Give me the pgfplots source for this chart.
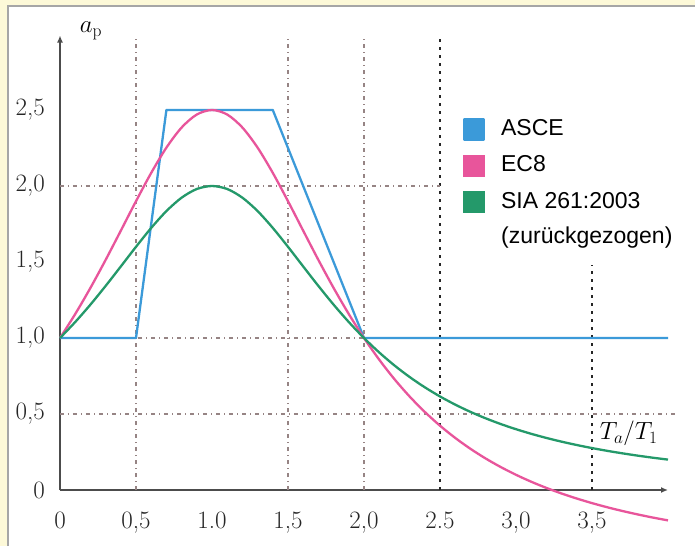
\documentclass[border=0pt]{standalone}
\usepackage{fontspec}
\setsansfont{Liberation Sans}
\usepackage{pgfplots}
\pgfplotsset{compat=1.18}
\usetikzlibrary{arrows.meta}
\definecolor{cream}{RGB}{253,249,216}
\definecolor{asce}{RGB}{59,154,217}
\definecolor{ecacht}{RGB}{232,85,155}
\definecolor{sia}{RGB}{36,153,106}
\definecolor{gridg}{RGB}{150,132,132}
\begin{document}
\begin{tikzpicture}
\fill[cream] (-60pt,-56pt) rectangle (635pt,490pt);
\fill[white] (-52pt,-56pt) rectangle (635pt,484pt);
\draw[black!35, line width=1.5pt] (-52pt,-56pt) -- (-52pt,484pt) -- (635pt,484pt);
\begin{axis}[
  at={(0pt,0pt)}, anchor=south west,
  x=152pt, y=152pt,
  xmin=0, xmax=4.0, ymin=0, ymax=2.99,
  axis lines=left,
  axis line style={-{Latex[length=7pt,width=6pt]}, line width=1.6pt, black!70},
  clip=false,
  xtick={0,0.5,1,1.5,2,2.5,3,3.5},
  xticklabels={0,{0,5},1.0,{1,5},{2,0},2.5,{3,0},{3,5}},
  ytick={0,0.5,1,1.5,2,2.5},
  yticklabels={0,{0,5},{1,0},{1,5},{2,0},{2,5}},
  major tick length=0pt,
  tick label style={font=\fontsize{25}{29}\selectfont, text=black!85},
  xticklabel style={anchor=base, yshift=-38pt, inner sep=0pt},
  yticklabel style={anchor=east, xshift=-15pt, inner sep=0pt},
  legend cell align=left,
  legend image code/.code={\fill[#1] (0pt,-10pt) rectangle (20pt,10pt); \path[draw=none, fill=none] (0pt,0pt) -- (37pt,0pt);},
  legend style={at={(axis cs:2.65,2.447)}, anchor=north west, draw=none, fill=none,
    inner sep=0pt, row sep=14pt, column sep=0pt,
    font=\sffamily\fontsize{23}{27}\selectfont,
    nodes={inner sep=0pt, text height=16.5pt, text depth=4.5pt}},
]
% grid lines
\draw[gridg, line width=1.3pt, dash pattern=on 4pt off 4pt on 1pt off 4pt] (axis cs:0.5,0) -- (axis cs:0.5,2.99);
\draw[gridg, line width=1.3pt, dash pattern=on 4pt off 4pt on 1pt off 4pt] (axis cs:1.5,0) -- (axis cs:1.5,2.99);
\draw[gridg, line width=1.3pt, dash pattern=on 4pt off 4pt on 1pt off 4pt] (axis cs:2.0,0) -- (axis cs:2.0,2.99);
\draw[black!85, line width=1.8pt, dash pattern=on 3pt off 5pt] (axis cs:2.5,0) -- (axis cs:2.5,2.99);
\draw[black!85, line width=1.8pt, dash pattern=on 3pt off 5pt] (axis cs:3.5,0) -- (axis cs:3.5,1.48);
\draw[gridg, line width=1.3pt, dash pattern=on 4pt off 4pt on 1pt off 4pt] (axis cs:0,0.5) -- (axis cs:4.05,0.5);
\draw[gridg, line width=1.3pt, dash pattern=on 4pt off 4pt on 1pt off 4pt] (axis cs:0,1.0) -- (axis cs:4.0,1.0);
\draw[gridg, line width=1.3pt, dash pattern=on 4pt off 4pt on 1pt off 4pt] (axis cs:0,2.0) -- (axis cs:2.5,2.0);
% ASCE
\addplot[asce, line width=2.3pt, line join=round] coordinates {
(0,1) (0.5,1) (0.7,2.5) (1.4,2.5) (2.0,1) (4.0,1)};
\addlegendentry{ASCE}
% EC8
\addplot[ecacht, line width=2.3pt, smooth] coordinates {
(0,1.0) (0.1,1.1575) (0.2,1.3293) (0.3,1.5134) (0.4,1.7059) (0.5,1.9)
(0.6,2.0862) (0.7,2.2523) (0.8,2.3846) (0.9,2.4703) (1.0,2.5)
(1.1,2.4703) (1.2,2.3846) (1.3,2.2523) (1.4,2.0862) (1.5,1.9)
(1.6,1.7059) (1.7,1.5134) (1.8,1.3293) (1.9,1.1575) (2.0,1.0)
(2.1,0.8575) (2.2,0.7295) (2.3,0.6152) (2.4,0.5135) (2.5,0.4231)
(2.6,0.3427) (2.7,0.2712) (2.8,0.2075) (2.9,0.1508) (3.0,0.1)
(3.1,0.0545) (3.2,0.0137) (3.3,-0.0231) (3.4,-0.0562) (3.5,-0.0862)
(3.6,-0.1134) (3.7,-0.1381) (3.8,-0.1606) (3.9,-0.1812) (4.0,-0.2)};
\addlegendentry{EC8}
% SIA
\addplot[sia, line width=2.3pt, smooth] coordinates {
(0,1.0) (0.1,1.1050) (0.2,1.2195) (0.3,1.3423) (0.4,1.4706) (0.5,1.6)
(0.6,1.7241) (0.7,1.8349) (0.8,1.9231) (0.9,1.9802) (1.0,2.0)
(1.1,1.9802) (1.2,1.9231) (1.3,1.8349) (1.4,1.7241) (1.5,1.6)
(1.6,1.4706) (1.7,1.3423) (1.8,1.2195) (1.9,1.1050) (2.0,1.0)
(2.1,0.9050) (2.2,0.8197) (2.3,0.7435) (2.4,0.6757) (2.5,0.6154)
(2.6,0.5618) (2.7,0.5141) (2.8,0.4717) (2.9,0.4338) (3.0,0.4)
(3.1,0.3697) (3.2,0.3425) (3.3,0.3180) (3.4,0.2959) (3.5,0.2759)
(3.6,0.2577) (3.7,0.2413) (3.8,0.2262) (3.9,0.2125) (4.0,0.2)};
\addlegendentry{SIA 261:2003}
\addlegendimage{empty legend}
\addlegendentry{(zurückgezogen)}
\node[anchor=base west, inner sep=0pt, font=\fontsize{25}{30}\selectfont] at (axis cs:0.13,3.01) {$a_{\mathrm{p}}$};
\node[anchor=base west, inner sep=0pt, font=\fontsize{26}{30}\selectfont] at (axis cs:3.55,0.33) {$T_a/T_1$};
\end{axis}
\pgfresetboundingbox
\useasboundingbox (-60pt,-56pt) rectangle (635pt,490pt);
\end{tikzpicture}
\end{document}
